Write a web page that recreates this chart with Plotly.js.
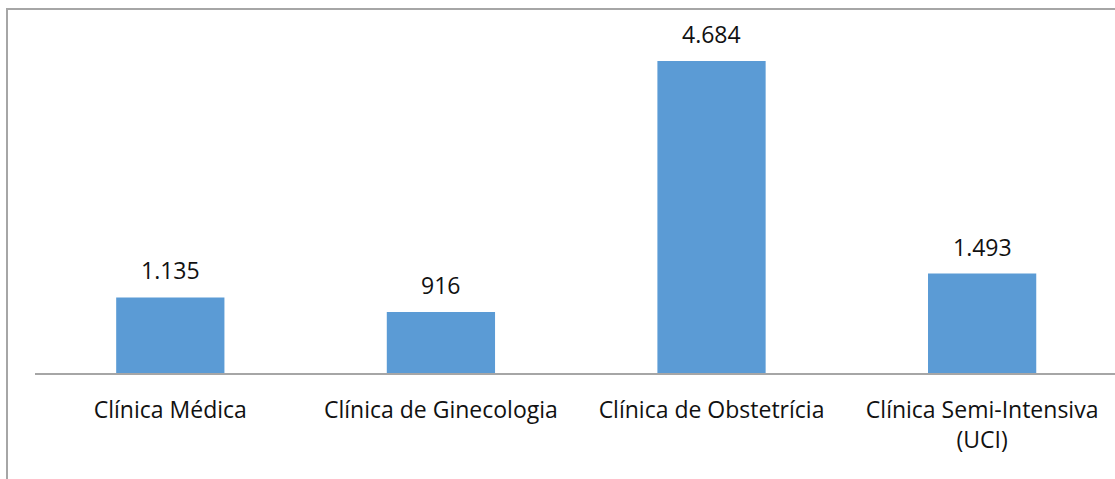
<!DOCTYPE html>
<html>
<head>
<meta charset="utf-8">
<script src="https://cdn.plot.ly/plotly-3.0.1.min.js"></script>
<style>
  html, body { margin: 0; padding: 0; background: #fff; }
  #wrap { position: relative; width: 1115px; height: 479px; }
  #chart { width: 1115px; height: 479px; }
  #frame { position: absolute; left: 6px; top: 8px; right: 0; bottom: 0;
           border-left: 2px solid #a6a6a6; border-top: 2px solid #a6a6a6;
           pointer-events: none; }
</style>
</head>
<body>
<div id="wrap">
  <div id="chart"></div>
  <div id="frame"></div>
</div>
<script>
const categories = ['Clínica Médica', 'Clínica de Ginecologia', 'Clínica de Obstetrícia', 'Clínica Semi-Intensiva<br>(UCI)'];
const values = [1135, 916, 4684, 1493];

function fmt(v) { return String(v).replace(/\B(?=(\d{3})+(?!\d))/g, '.'); }

const FONT = '"Open Sans", sans-serif';

const trace = {
  type: 'bar',
  x: [0, 1, 2, 3],
  y: values,
  width: 0.4,
  marker: { color: '#5b9bd5' },
  hoverinfo: 'none'
};

const annotations = values.map((v, i) => ({
  x: i, y: v, xref: 'x', yref: 'y',
  text: fmt(v), showarrow: false,
  yanchor: 'bottom', yshift: 9,
  font: { family: FONT, size: 23, color: '#111111' }
}));

const layout = {
  width: 1115, height: 479,
  margin: { l: 35, r: 0, t: 40, b: 106, pad: 0 },
  paper_bgcolor: '#ffffff', plot_bgcolor: '#ffffff',
  showlegend: false,
  bargap: 0.6,
  xaxis: {
    range: [-0.5, 3.491],
    tickvals: [0, 1, 2, 3],
    ticktext: categories,
    ticks: 'outside', ticklen: 16, tickcolor: 'rgba(0,0,0,0)',
    showline: true, linecolor: '#a6a6a6', linewidth: 1.5,
    showgrid: false, zeroline: false,
    tickfont: { family: FONT, size: 23, color: '#111111' },
    fixedrange: true
  },
  yaxis: {
    range: [0, 5000],
    visible: false, showgrid: false, zeroline: false,
    fixedrange: true
  },
  annotations: annotations
};

Plotly.newPlot('chart', [trace], layout, { displayModeBar: false, staticPlot: true });
</script>
</body>
</html>
